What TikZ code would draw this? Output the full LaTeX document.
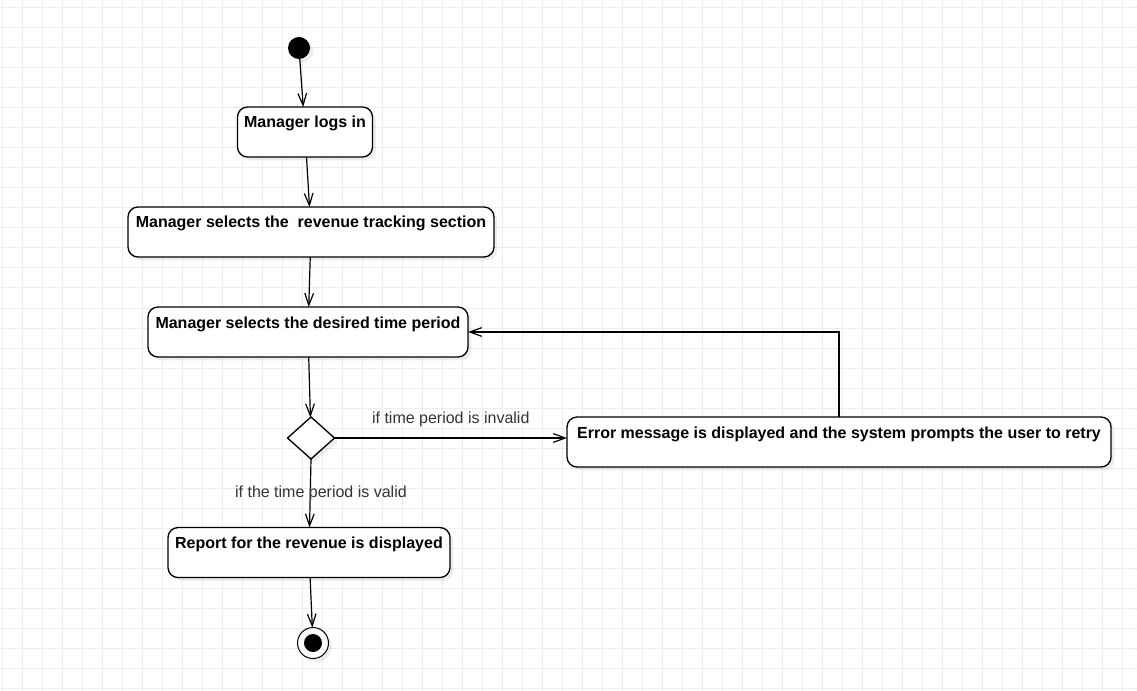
\documentclass[tikz,border=0pt]{standalone}
\usepackage{fontspec}
\setmainfont{Liberation Sans}
\usetikzlibrary{positioning}
\usetikzlibrary{shapes.geometric}
\usetikzlibrary{arrows.meta}
\usetikzlibrary{shadows}
\definecolor{gridgrey}{HTML}{EDEDED}
\definecolor{labelgrey}{HTML}{333333}

\begin{document}
\begin{tikzpicture}
          [x=0.75pt, y=-0.75pt, font=\fontsize{12pt}{14pt}\selectfont,
           gridline/.style={draw=gridgrey, line width=0.75pt},
           softshadow/.style={drop shadow={shadow xshift=2.5pt, shadow yshift=-2.5pt, fill=black, opacity=0.07}},
           startdot/.style={circle, fill=black, minimum size=16.5pt, inner sep=0pt, outer sep=0pt, softshadow},
           enddot/.style={circle, draw, line width=0.75pt, fill=white, minimum size=23.25pt, inner sep=0pt, outer sep=0pt, softshadow,
             path picture={\fill[black] (path picture bounding box.center) circle (6.75pt);}},
           actbox/.style={draw, line width=1pt, rounded corners=7.5pt, fill=white, font=\fontsize{12pt}{14pt}\selectfont\bfseries,
             inner xsep=2pt, inner ysep=3pt, outer sep=0pt, text height=12.75pt, text depth=18.75pt, softshadow},
           choice/.style={diamond, draw, line width=1pt, fill=white, minimum width=35.25pt, minimum height=31.5pt,
             inner sep=0pt, outer sep=0pt, softshadow},
           flow/.style={-{Straight Barb[length=9pt, width=6.5pt]}, line width=0.9pt},
           guard/.style={text=labelgrey, inner sep=2pt}]
          \useasboundingbox (0,0) rectangle (1137,691);
          \fill[white] (0,0) rectangle (1137,691);
          \foreach \gx in {2.5,22.5,...,1137} \draw[gridline] (\gx,0) -- (\gx,691);
          \foreach \gy in {8,28,...,691} \draw[gridline] (0,\gy) -- (1137,\gy);

          \node (start) [startdot] at (299,48) {};
          \node (login) [actbox, minimum width=101.25pt, below=36pt of start, xshift=4.5pt] {Manager logs in};
          \node (section) [actbox, minimum width=274.5pt, below=37.5pt of login, xshift=4.5pt] {Manager selects the \ revenue tracking section};
          \node (period) [actbox, minimum width=240pt, below=37.5pt of section, xshift=-2.25pt] {Manager selects the desired time period};
          \node (check) [choice, below=45pt of period, xshift=2.25pt] {};
          \node (report) [actbox, minimum width=211.5pt, below=51.4pt of check, xshift=-1.5pt] {Report for the revenue is displayed};
          \node (stop) [enddot, below=37.5pt of report, xshift=3pt] {};

          \node (error) [actbox, minimum width=408pt, right=174.4pt of check, yshift=-3pt] {Error message is displayed and the system prompts the user to retry};

          \draw[flow] (start) -- (login);
          \draw[flow] (login) -- (section);
          \draw[flow] (section) -- (period);
          \draw[flow] (period) -- (check);
          \draw[flow] (check.east) -- node (invalid) [guard, above=6pt] {if time period is invalid} (check.east -| error.west);
          \draw[flow] (error.north) |- (period.east);
          \draw[flow] (check.south) -- node (valid) [guard, xshift=8pt] {if the time period is valid} (report);
          \draw[flow] (report) -- (stop);

        \end{tikzpicture}
\end{document}
